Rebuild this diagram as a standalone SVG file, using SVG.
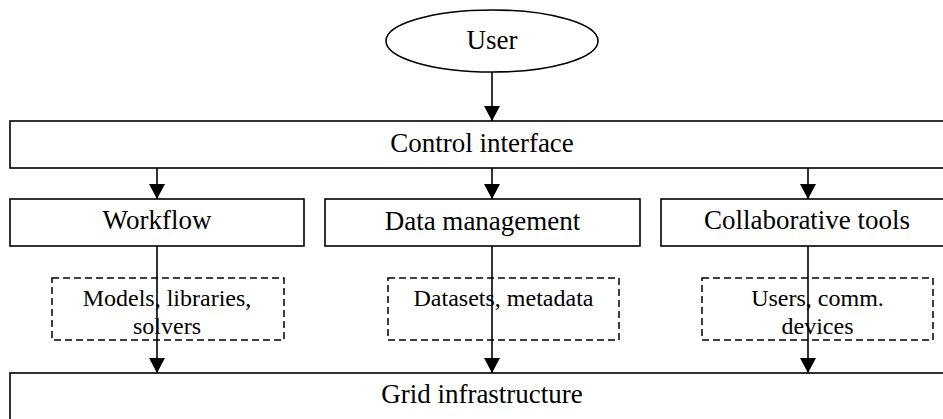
<svg xmlns="http://www.w3.org/2000/svg" width="943" height="419" viewBox="0 0 943 419">
<style>
.box{fill:#fff;stroke:#000;stroke-width:1.6}
.dash{fill:none;stroke:#000;stroke-width:1.5;stroke-dasharray:7 4}
.t{font-family:"Liberation Serif","Times New Roman",serif;font-size:27px;fill:#000;text-anchor:middle}
.s{font-family:"Liberation Serif","Times New Roman",serif;font-size:24px;fill:#000;text-anchor:middle}
.c{stroke:#000;stroke-width:1.6;fill:none;marker-end:url(#ah)}
</style>
<defs>
<marker id="ah" markerUnits="userSpaceOnUse" markerWidth="16" markerHeight="16" viewBox="0 0 16 16" refX="15" refY="8" orient="auto">
<path d="M0,0 L15,8 L0,16 Z" fill="#000"/>
</marker>
</defs>
<g id="user">
<ellipse class="box" cx="492" cy="41" rx="106" ry="31"/>
<text class="t" x="492" y="49">User</text>
</g>
<g id="control-interface">
<rect class="box" x="10" y="121" width="940" height="47"/>
<text class="t" x="482" y="152">Control interface</text>
</g>
<g id="workflow">
<rect class="box" x="10" y="199" width="294" height="47"/>
<text class="t" x="157" y="229">Workflow</text>
</g>
<g id="data-management">
<rect class="box" x="325" y="199" width="315" height="47"/>
<text class="t" x="482.5" y="230">Data management</text>
</g>
<g id="collaborative-tools">
<rect class="box" x="661" y="199" width="290" height="47"/>
<text class="t" x="807" y="229">Collaborative tools</text>
</g>
<g id="models">
<rect class="dash" x="52" y="278" width="232" height="62"/>
<text class="s" x="167" y="306">Models, libraries,</text>
<text class="s" x="167" y="334">solvers</text>
</g>
<g id="datasets">
<rect class="dash" x="388" y="278" width="231" height="62"/>
<text class="s" x="503.5" y="306">Datasets, metadata</text>
</g>
<g id="users">
<rect class="dash" x="702" y="278" width="231" height="62"/>
<text class="s" x="817.5" y="306">Users, comm.</text>
<text class="s" x="817.5" y="334">devices</text>
</g>
<g id="grid-infrastructure">
<rect class="box" x="10" y="373" width="940" height="60"/>
<text class="t" x="482" y="403">Grid infrastructure</text>
</g>
<g id="connectors">
<line class="c" x1="492" y1="72" x2="492" y2="121"/>
<line class="c" x1="157" y1="168" x2="157" y2="199"/>
<line class="c" x1="492" y1="168" x2="492" y2="199"/>
<line class="c" x1="808" y1="168" x2="808" y2="199"/>
<line class="c" x1="157" y1="246" x2="157" y2="373"/>
<line class="c" x1="492" y1="246" x2="492" y2="373"/>
<line class="c" x1="808" y1="246" x2="808" y2="373"/>
</g>
</svg>
